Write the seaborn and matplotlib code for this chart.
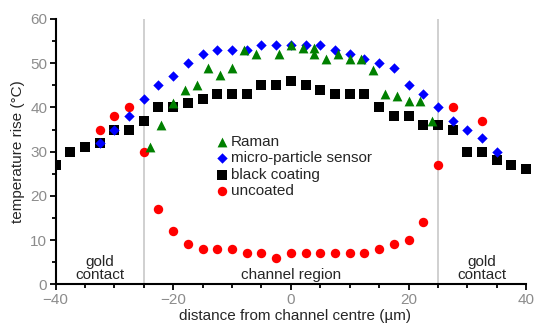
import matplotlib
matplotlib.use("Agg")
import matplotlib.pyplot as plt
import seaborn as sns
from matplotlib.ticker import MultipleLocator

# black coating (squares)
black_x = [-40, -37.5, -35, -32.5, -30, -27.5, -25, -22.5, -20, -17.5, -15, -12.5, -10, -7.5, -5, -2.5, 0,
           2.5, 5, 7.5, 10, 12.5, 15, 17.5, 20, 22.5, 25, 27.5, 30, 32.5, 35, 37.5, 40]
black_y = [27, 30, 31, 32, 35, 35, 37, 40, 40, 41, 42, 43, 43, 43, 45, 45, 46,
           45, 44, 43, 43, 43, 40, 38, 38, 36, 36, 35, 30, 30, 28, 27, 26]

# micro-particle sensor (diamonds)
sensor_x = [-32.5, -30, -27.5, -25, -22.5, -20, -17.5, -15, -12.5, -10, -7.5, -5, -2.5, 0,
            2.5, 5, 7.5, 10, 12.5, 15, 17.5, 20, 22.5, 25, 27.5, 30, 32.5, 35]
sensor_y = [32, 35, 38, 42, 45, 47, 50, 52, 53, 53, 53, 54, 54, 54,
            54, 54, 53, 52, 51, 50, 49, 45, 43, 40, 37, 35, 33, 30]

# Raman (triangles)
raman_x = [-24, -22, -20, -18, -16, -14, -12, -10, -8, -6, -2, 0, 2, 4, 4, 6, 8, 10, 12, 14, 16, 18, 20, 22, 24]
raman_y = [31, 36, 41, 44, 45, 49, 47.4, 49, 53, 52, 52, 54, 53.5, 53.5, 52, 51, 52, 51, 51, 48.5,
           43, 42.5, 41.5, 41.5, 37]

# uncoated (circles)
uncoated_x = [-32.5, -30, -27.5, -25, -22.5, -20, -17.5, -15, -12.5, -10, -7.5, -5, -2.5, 0,
              2.5, 5, 7.5, 10, 12.5, 15, 17.5, 20, 22.5, 25, 27.5, 32.5]
uncoated_y = [35, 38, 40, 30, 17, 12, 9, 8, 8, 8, 7, 7, 6, 7,
              7, 7, 7, 7, 7, 8, 9, 10, 14, 27, 40, 37]

boundaries = [-25, 25]

sns.set_style("white")
plt.rcParams["font.family"] = ["Liberation Sans", "DejaVu Sans"]
plt.rcParams["font.size"] = 11

fig = plt.figure(figsize=(5.39, 3.27), dpi=100)
ax = fig.add_axes([0.103, 0.1306, 0.8896, 0.8114])

for b in boundaries:
    ax.axvline(b, color="#c4c4c4", lw=1.1, zorder=1)

sns.scatterplot(x=black_x, y=black_y, marker="s", color="black", s=55, linewidth=0,
                label="black coating", ax=ax, zorder=3)
sns.scatterplot(x=uncoated_x, y=uncoated_y, marker="o", color="#ff0000", s=46, linewidth=0,
                label="uncoated", ax=ax, zorder=4)
sns.scatterplot(x=sensor_x, y=sensor_y, marker="D", color="#0000ff", s=28, linewidth=0,
                label="micro-particle sensor", ax=ax, zorder=5)
sns.scatterplot(x=raman_x, y=raman_y, marker="^", color="#008000", s=50, linewidth=0,
                label="Raman", ax=ax, zorder=6)

handles, labels = ax.get_legend_handles_labels()
order = ["Raman", "micro-particle sensor", "black coating", "uncoated"]
hmap = dict(zip(labels, handles))
ax.legend([hmap[k] for k in order], order, loc="upper left",
          bbox_to_anchor=(0.387, 0.61), bbox_transform=fig.transFigure,
          frameon=False, borderpad=0, handlelength=0.75, handletextpad=0.2,
          labelspacing=0.15, fontsize=11)

ax.text(-32.5, 0.6, "gold\ncontact", ha="center", va="bottom", fontsize=11, linespacing=0.9)
ax.text(32.5, 0.6, "gold\ncontact", ha="center", va="bottom", fontsize=11, linespacing=0.9)
ax.text(0, 0.6, "channel region", ha="center", va="bottom", fontsize=11)

ax.set_xlim(-40, 41.5)
ax.set_ylim(0, 60)
ax.spines["bottom"].set_bounds(-40, 40)
ax.xaxis.set_major_locator(MultipleLocator(20))
ax.xaxis.set_minor_locator(MultipleLocator(5))
ax.yaxis.set_major_locator(MultipleLocator(10))
ax.yaxis.set_minor_locator(MultipleLocator(5))

for side in ["top", "right"]:
    ax.spines[side].set_visible(False)
for side in ["left", "bottom"]:
    ax.spines[side].set_linewidth(1.5)
    ax.spines[side].set_color("black")

ax.tick_params(which="major", direction="out", length=4.5, width=1.3, color="black",
               labelcolor="#8c8c8c", labelsize=11, pad=1.5, left=True, bottom=True)
ax.tick_params(which="minor", direction="out", length=2.8, width=1.3, color="black",
               left=True, bottom=True)

ax.set_xlabel("distance from channel centre (µm)", fontsize=11, labelpad=2)
ax.set_ylabel("temperature rise (°C)", fontsize=11, labelpad=4)

fig.savefig("out.png", dpi=100)
